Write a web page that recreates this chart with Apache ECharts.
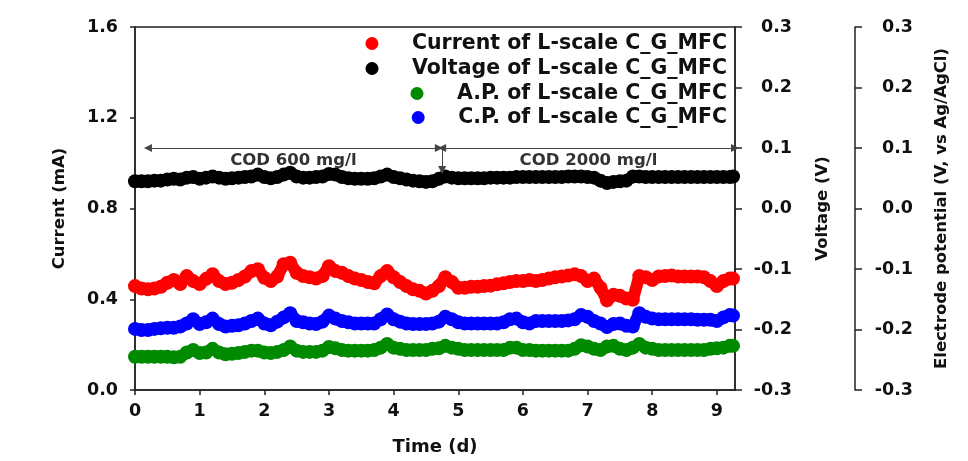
<!DOCTYPE html>
<html>
<head>
<meta charset="utf-8">
<script src="https://cdn.jsdelivr.net/npm/echarts@6/dist/echarts.min.js"></script>
<style>
html,body{margin:0;padding:0;background:#fff;}
#chart{width:968px;height:461px;}
</style>
</head>
<body>
<div id="chart"></div>
<script>
// ---- data ----
const timeDays = [0,0.1,0.2,0.3,0.4,0.5,0.6,0.7,0.8,0.9,
  1.0,1.1,1.2,1.3,1.4,1.5,1.6,1.7,1.8,1.9,
  2.0,2.1,2.2,2.3,2.4,2.5,2.6,2.7,2.8,2.9,
  3.0,3.1,3.2,3.3,3.4,3.5,3.6,3.7,3.8,3.9,
  4.0,4.1,4.2,4.3,4.4,4.5,4.6,4.7,4.8,4.9,
  5.0,5.1,5.2,5.3,5.4,5.5,5.6,5.7,5.8,5.9,
  6.0,6.1,6.2,6.3,6.4,6.5,6.6,6.7,6.8,6.9,
  7.0,7.1,7.2,7.3,7.4,7.5,7.6,7.7,7.8,7.9,
  8.0,8.1,8.2,8.3,8.4,8.5,8.6,8.7,8.8,8.9,
  9.0,9.1,9.2,9.25];

const currentMA = [0.458,0.447,0.444,0.447,0.455,0.473,0.485,0.467,0.502,0.480,
  0.467,0.490,0.510,0.480,0.467,0.473,0.485,0.500,0.524,0.532,
  0.495,0.480,0.500,0.554,0.561,0.517,0.502,0.497,0.491,0.502,
  0.546,0.524,0.517,0.502,0.491,0.485,0.476,0.470,0.502,0.524,
  0.497,0.476,0.458,0.444,0.437,0.425,0.437,0.458,0.497,0.476,
  0.451,0.451,0.455,0.455,0.458,0.460,0.466,0.470,0.476,0.480,
  0.480,0.485,0.480,0.485,0.491,0.497,0.500,0.505,0.510,0.502,
  0.480,0.491,0.451,0.395,0.420,0.415,0.403,0.398,0.502,0.497,
  0.485,0.500,0.502,0.505,0.500,0.500,0.500,0.500,0.497,0.480,
  0.458,0.480,0.491,0.491];

const voltageV = [0.045,0.045,0.045,0.046,0.046,0.048,0.049,0.048,0.051,0.052,
  0.049,0.051,0.053,0.051,0.049,0.050,0.051,0.052,0.053,0.056,
  0.052,0.050,0.052,0.056,0.059,0.053,0.051,0.051,0.052,0.053,
  0.057,0.056,0.052,0.050,0.049,0.049,0.049,0.050,0.053,0.056,
  0.052,0.050,0.048,0.046,0.045,0.044,0.045,0.049,0.053,0.051,
  0.050,0.050,0.050,0.050,0.050,0.051,0.051,0.051,0.051,0.052,
  0.052,0.052,0.052,0.052,0.052,0.052,0.052,0.053,0.053,0.053,
  0.052,0.051,0.046,0.042,0.044,0.045,0.046,0.053,0.053,0.052,
  0.052,0.052,0.052,0.052,0.052,0.052,0.052,0.052,0.052,0.052,
  0.052,0.052,0.052,0.053];

const anodePotV = [-0.245,-0.245,-0.245,-0.245,-0.245,-0.245,-0.246,-0.245,-0.238,-0.234,
  -0.239,-0.238,-0.232,-0.238,-0.241,-0.240,-0.239,-0.237,-0.235,-0.235,
  -0.238,-0.239,-0.237,-0.234,-0.228,-0.235,-0.237,-0.237,-0.237,-0.235,
  -0.229,-0.231,-0.234,-0.235,-0.235,-0.235,-0.235,-0.234,-0.230,-0.224,
  -0.230,-0.232,-0.234,-0.234,-0.234,-0.234,-0.232,-0.231,-0.227,-0.230,
  -0.232,-0.234,-0.234,-0.234,-0.234,-0.234,-0.234,-0.234,-0.230,-0.230,
  -0.234,-0.234,-0.235,-0.235,-0.235,-0.235,-0.235,-0.235,-0.232,-0.226,
  -0.228,-0.232,-0.234,-0.228,-0.227,-0.232,-0.234,-0.230,-0.224,-0.230,
  -0.232,-0.234,-0.234,-0.234,-0.234,-0.234,-0.234,-0.234,-0.234,-0.232,
  -0.231,-0.230,-0.227,-0.227];

const cathodePotV = [-0.199,-0.201,-0.201,-0.199,-0.198,-0.197,-0.197,-0.195,-0.190,-0.183,
  -0.191,-0.188,-0.182,-0.191,-0.195,-0.194,-0.193,-0.190,-0.186,-0.182,
  -0.190,-0.193,-0.187,-0.180,-0.173,-0.186,-0.188,-0.190,-0.191,-0.187,
  -0.177,-0.182,-0.186,-0.188,-0.190,-0.190,-0.190,-0.190,-0.183,-0.175,
  -0.183,-0.187,-0.190,-0.191,-0.191,-0.191,-0.190,-0.187,-0.179,-0.183,
  -0.188,-0.190,-0.190,-0.190,-0.190,-0.190,-0.190,-0.188,-0.183,-0.182,
  -0.188,-0.190,-0.186,-0.186,-0.186,-0.186,-0.186,-0.185,-0.183,-0.176,
  -0.179,-0.186,-0.190,-0.196,-0.191,-0.190,-0.194,-0.195,-0.173,-0.179,
  -0.182,-0.183,-0.183,-0.183,-0.183,-0.183,-0.183,-0.184,-0.184,-0.184,
  -0.186,-0.180,-0.176,-0.177];

const seriesNames = ['Current of L-scale C_G_MFC','Voltage of L-scale C_G_MFC',
  'A.P. of L-scale C_G_MFC','C.P. of L-scale C_G_MFC'];
const seriesColors = ['#ff0000','#000000','#008a00','#0000ff'];

const xTicks = [0,1,2,3,4,5,6,7,8,9];

// phase annotations (time in days, level in mA)
const phaseLabels = ['COD 600 mg/l','COD 2000 mg/l'];
const phaseStart = [0.2, 4.75];
const phaseEnd = [4.70, 9.28];
const arrowLevelMA = 1.067;
const switchDay = 4.75;
const switchArrowEndMA = 0.97;

// ---- chart ----
const FONT = 'DejaVu Sans';
const chart = echarts.init(document.getElementById('chart'), null, {renderer:'canvas'});
const fmt1 = v => (Math.abs(v) < 1e-9 ? 0 : v).toFixed(1);

function legendFor(i, centerY){
  return {
    data:[seriesNames[i]], right: 241, top: centerY - 10, padding: 0,
    icon:'circle', itemWidth: 70, itemHeight: 13, selectedMode:false,
    textStyle:{fontFamily:FONT, fontWeight:'bold', fontSize:20.5, color:'#111', lineHeight:20}
  };
}

function mkSeries(i, yIdx, values, extra){
  return Object.assign({
    name: seriesNames[i], type:'line', xAxisIndex:0, yAxisIndex:yIdx,
    data: timeDays.map((t,k)=>[t, values[k]]),
    symbol:'circle', symbolSize:14, showSymbol:true,
    lineStyle:{color:seriesColors[i], width:12, cap:'round', join:'round'},
    itemStyle:{color:seriesColors[i], borderWidth:0},
    color: seriesColors[i],
    animation:false, silent:true
  }, extra||{});
}

const markLineData = [
  [{coord:[phaseStart[0], arrowLevelMA], symbol:'triangle'},
   {coord:[phaseEnd[0], arrowLevelMA], symbol:'triangle'}],
  [{coord:[phaseStart[1], arrowLevelMA], symbol:'triangle'},
   {coord:[phaseEnd[1], arrowLevelMA], symbol:'triangle'}],
  [{coord:[switchDay, arrowLevelMA], symbol:'none', label:{show:false}},
   {coord:[switchDay, switchArrowEndMA], symbol:'triangle'}]
];
markLineData[0][0].name = phaseLabels[0];
markLineData[1][0].name = phaseLabels[1];

const axisTitle = {fontFamily:FONT, fontWeight:'bold', fontSize:16.5, color:'#111'};
const tickLabel = {fontFamily:FONT, fontWeight:'bold', fontSize:17.5, color:'#111'};

chart.setOption({
  backgroundColor:'#fff',
  animation:false,
  textStyle:{fontFamily:FONT},
  grid:{left:135, right:233, top:27, bottom:70, show:true, borderColor:'#222', borderWidth:1.5, backgroundColor:'transparent'},
  legend:[legendFor(0,43), legendFor(1,68), legendFor(2,93), legendFor(3,117)],
  xAxis:{
    type:'value', min:0, max:9.28,
    name:'Time (d)', nameLocation:'middle', nameGap:48,
    nameTextStyle:Object.assign({}, axisTitle, {fontSize:18}),
    axisLine:{show:true, lineStyle:{color:'#222', width:1.5}},
    axisTick:{show:true, length:5, customValues:xTicks, lineStyle:{color:'#222', width:1.5}},
    axisLabel:{customValues:xTicks, margin:12, formatter:v=>String(v), ...tickLabel},
    splitLine:{show:false}
  },
  yAxis:[
    {
      type:'value', position:'left', min:0, max:1.6, interval:0.4,
      name:'Current (mA)', nameLocation:'middle', nameGap:67, nameRotate:90,
      nameTextStyle:axisTitle,
      axisLine:{show:true, onZero:false, lineStyle:{color:'#222', width:1.5}},
      axisTick:{show:true, length:5, lineStyle:{color:'#222', width:1.5}},
      axisLabel:{margin:17, formatter:fmt1, ...tickLabel},
      splitLine:{show:false}
    },
    {
      type:'value', position:'right', min:-0.3, max:0.3, interval:0.1,
      name:'Voltage (V)', nameLocation:'middle', nameGap:79, nameRotate:90,
      nameTextStyle:axisTitle,
      axisLine:{show:true, onZero:false, lineStyle:{color:'#222', width:1.5}},
      axisTick:{show:true, length:7, lineStyle:{color:'#222', width:1.5}},
      axisLabel:{margin:57, align:'right', formatter:fmt1, ...tickLabel},
      splitLine:{show:false}
    },
    {
      type:'value', position:'right', offset:120, min:-0.3, max:0.3, interval:0.1,
      name:'Electrode potential (V, vs Ag/AgCl)', nameLocation:'middle', nameGap:78, nameRotate:90,
      nameTextStyle:axisTitle,
      axisLine:{show:true, onZero:false, lineStyle:{color:'#222', width:1.5}},
      axisTick:{show:true, length:7, lineStyle:{color:'#222', width:1.5}},
      axisLabel:{margin:58, align:'right', formatter:fmt1, ...tickLabel},
      splitLine:{show:false}
    }
  ],
  series:[
    mkSeries(2, 2, anodePotV),
    mkSeries(3, 2, cathodePotV),
    mkSeries(0, 0, currentMA, {
      markLine:{
        silent:true, animation:false, symbolSize:8,
        lineStyle:{color:'#444', width:1, type:'solid'},
        label:{show:true, position:'insideMiddleBottom', distance:4, formatter:'{b}',
          fontFamily:FONT, fontWeight:'bold', fontSize:16.5, color:'#333'},
        emphasis:{disabled:true},
        data: markLineData
      }
    }),
    mkSeries(1, 1, voltageV)
  ]
});
</script>
</body>
</html>
